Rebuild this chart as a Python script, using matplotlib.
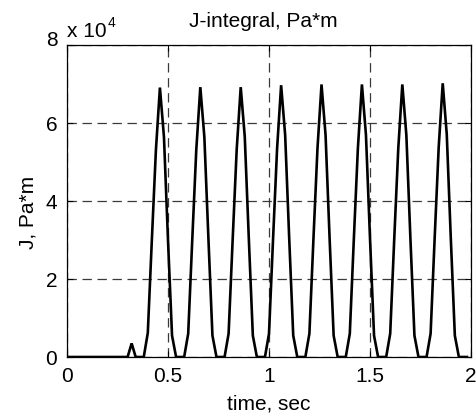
import matplotlib
matplotlib.use("Agg")
import matplotlib.pyplot as plt
import matplotlib.transforms as mtransforms

plt.rcParams['font.family'] = ['Liberation Sans', 'DejaVu Sans']

# time samples, sec
time_s = [
    0.00, 0.02, 0.04, 0.06, 0.08, 0.10, 0.12, 0.14, 0.16, 0.18,
    0.20, 0.22, 0.24, 0.26, 0.28, 0.30, 0.32, 0.34, 0.36, 0.38,
    0.40, 0.42, 0.44, 0.46, 0.48, 0.50, 0.52, 0.54, 0.56, 0.58,
    0.60, 0.62, 0.64, 0.66, 0.68, 0.70, 0.72, 0.74, 0.76, 0.78,
    0.80, 0.82, 0.84, 0.86, 0.88, 0.90, 0.92, 0.94, 0.96, 0.98,
    1.00, 1.02, 1.04, 1.06, 1.08, 1.10, 1.12, 1.14, 1.16, 1.18,
    1.20, 1.22, 1.24, 1.26, 1.28, 1.30, 1.32, 1.34, 1.36, 1.38,
    1.40, 1.42, 1.44, 1.46, 1.48, 1.50, 1.52, 1.54, 1.56, 1.58,
    1.60, 1.62, 1.64, 1.66, 1.68, 1.70, 1.72, 1.74, 1.76, 1.78,
    1.80, 1.82, 1.84, 1.86, 1.88, 1.90, 1.92, 1.94, 1.96, 1.98,
]

# J-integral values, Pa*m
j_integral = [
    0, 0, 0, 0, 0, 0, 0, 0, 0, 0,
    0, 0, 0, 0, 0, 0, 3500, 0, 0, 0,
    6200, 30000, 53000, 69200, 56500, 30000, 5500, 0, 0, 0,
    6000, 30000, 53200, 69300, 56500, 30500, 5500, 0, 0, 0,
    6000, 30000, 53200, 69300, 56600, 30500, 5500, 0, 0, 0,
    6000, 30200, 53500, 69800, 57000, 30500, 5500, 0, 0, 0,
    6000, 30300, 53600, 70000, 57000, 30500, 5500, 0, 0, 0,
    6000, 30300, 53600, 70000, 57000, 30500, 5500, 0, 0, 0,
    6000, 30300, 53600, 70000, 57000, 30500, 5500, 0, 0, 0,
    6000, 30400, 53800, 70300, 57200, 30500, 5500, 0, 0, 0,
]

x_ticks = [0, 0.5, 1, 1.5, 2]
x_tick_labels = ['0', '0.5', '1', '1.5', '2']
y_ticks = [0, 20000, 40000, 60000, 80000]
y_tick_labels = ['0', '2', '4', '6', '8']

FS = 15

fig = plt.figure(figsize=(4.77, 4.15), dpi=100)
ax = fig.add_axes([67 / 477, 1 - 357 / 415, 404 / 477, 311.5 / 415])

ax.plot(time_s, j_integral, color='black', lw=1.9, solid_joinstyle='miter')

ax.set_xlim(0, 2)
ax.set_ylim(0, 80000)
ax.set_xticks(x_ticks)
ax.set_xticklabels(x_tick_labels)
ax.set_yticks(y_ticks)
ax.set_yticklabels(y_tick_labels)

ax.tick_params(direction='in', length=4, width=0.8, top=True, right=True,
               labelsize=FS, pad=7, colors='black')
for s in ax.spines.values():
    s.set_linewidth(0.9)
    s.set_color('black')

# shift the top y tick label up, as in the reference
top_lbl = ax.get_yticklabels()[-1]
top_lbl.set_transform(top_lbl.get_transform() +
                      mtransforms.ScaledTranslation(0, 7 / 100, fig.dpi_scale_trans))

ax.grid(True, color='#3a3a3a', lw=0.9, linestyle=(0, (7.5, 4.5)))
ax.set_axisbelow(True)

ax.set_title('J-integral, Pa*m', fontsize=FS, pad=13, x=0.485)
ax.set_xlabel('time, sec', fontsize=FS, labelpad=6)
ax.set_ylabel('J, Pa*m', fontsize=FS)
ax.yaxis.set_label_coords(-0.072, 0.465)

# exponent label "x 10^4"
base = fig.text(67 / 477, 1 - 37 / 415, 'x 10', fontsize=FS,
                ha='left', va='baseline')
ax.annotate('4', xy=(1, 1), xycoords=base, xytext=(1, 4),
            textcoords='offset points', fontsize=10,
            ha='left', va='top', annotation_clip=False)

fig.savefig('out.png', dpi=100)
